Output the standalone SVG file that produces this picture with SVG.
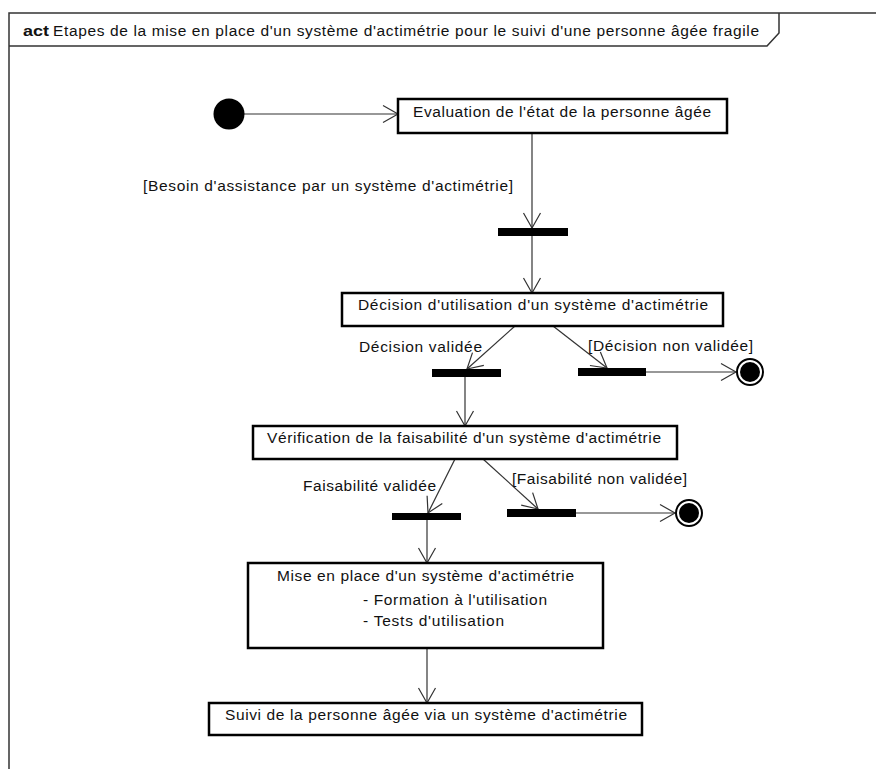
<svg xmlns="http://www.w3.org/2000/svg" width="876" height="769" viewBox="0 0 876 769">
<style>
text{font-family:"Liberation Sans",Arial,sans-serif;font-size:15.5px;fill:#111}
.box{fill:#fff;stroke:#000;stroke-width:2.5}
.bar{fill:#000}
.edge{stroke:#333;stroke-width:1.2;fill:none}
.frame{stroke:#333;stroke-width:1.5;fill:none}
</style>
<defs>
<marker id="open" markerUnits="userSpaceOnUse" markerWidth="20" markerHeight="20" viewBox="-16 -10 18 20" refX="0" refY="0" orient="auto">
<path d="M-15,-8.5 L0,0 L-15,8.5" fill="none" stroke="#333" stroke-width="1.2"/>
</marker>
</defs>
<rect width="876" height="769" fill="#fff"/>
<g id="frame">
<path class="frame" d="M9,769 L9,13 L876,13"/>
<path class="frame" d="M9,46 L767,46 L779,33 L779,13"/>
<text x="23" y="36" font-weight="bold" font-size="16" textLength="26" lengthAdjust="spacingAndGlyphs">act</text>
<text x="53" y="36" textLength="706" lengthAdjust="spacing">Etapes de la mise en place d'un système d'actimétrie pour le suivi d'une personne âgée fragile</text>
</g>
<g id="connectors">
<line class="edge" x1="244" y1="114" x2="398" y2="114" marker-end="url(#open)"/>
<line class="edge" x1="532" y1="133" x2="532" y2="228" marker-end="url(#open)"/>
<line class="edge" x1="532" y1="236" x2="532" y2="293" marker-end="url(#open)"/>
<line class="edge" x1="515" y1="326" x2="467" y2="369" marker-end="url(#open)"/>
<line class="edge" x1="553" y1="326" x2="607" y2="368" marker-end="url(#open)"/>
<line class="edge" x1="646" y1="372" x2="736" y2="372" marker-end="url(#open)"/>
<line class="edge" x1="465" y1="377" x2="465" y2="426" marker-end="url(#open)"/>
<line class="edge" x1="455" y1="459" x2="428" y2="513" marker-end="url(#open)"/>
<line class="edge" x1="483" y1="459" x2="538" y2="509" marker-end="url(#open)"/>
<line class="edge" x1="576" y1="513" x2="675" y2="513" marker-end="url(#open)"/>
<line class="edge" x1="427" y1="520" x2="427" y2="563" marker-end="url(#open)"/>
<line class="edge" x1="427" y1="648" x2="427" y2="703" marker-end="url(#open)"/>
<text x="143" y="191" textLength="370" lengthAdjust="spacing">[Besoin d'assistance par un système d'actimétrie]</text>
<text x="359" y="352" textLength="123" lengthAdjust="spacing">Décision validée</text>
<text x="588" y="351" textLength="165" lengthAdjust="spacing">[Décision non validée]</text>
<text x="303" y="491" textLength="133" lengthAdjust="spacing">Faisabilité validée</text>
<text x="512" y="484" textLength="175" lengthAdjust="spacing">[Faisabilité non validée]</text>
</g>
<g id="initial"><circle cx="229" cy="114" r="15.5" fill="#000"/></g>
<g id="evaluation">
<rect class="box" x="398" y="99" width="329" height="34"/>
<text x="413" y="117" textLength="298" lengthAdjust="spacing">Evaluation de l'état de la personne âgée</text>
</g>
<g id="fork1"><rect class="bar" x="498" y="228" width="70" height="8"/></g>
<g id="decision">
<rect class="box" x="342" y="293" width="381" height="33"/>
<text x="358" y="310" textLength="350" lengthAdjust="spacing">Décision d'utilisation d'un système d'actimétrie</text>
</g>
<g id="forkDecOk"><rect class="bar" x="432" y="369" width="69" height="8"/></g>
<g id="forkDecKo"><rect class="bar" x="578" y="368" width="68" height="8"/></g>
<g id="final1">
<circle cx="750" cy="372" r="13" fill="#fff" stroke="#000" stroke-width="2"/>
<circle cx="750" cy="372" r="10" fill="#000"/>
</g>
<g id="verification">
<rect class="box" x="253" y="426" width="424" height="33"/>
<text x="267" y="443" textLength="394" lengthAdjust="spacing">Vérification de la faisabilité d'un système d'actimétrie</text>
</g>
<g id="forkFaisOk"><rect class="bar" x="392" y="513" width="69" height="7"/></g>
<g id="forkFaisKo"><rect class="bar" x="507" y="509" width="69" height="8"/></g>
<g id="final2">
<circle cx="689" cy="513" r="13" fill="#fff" stroke="#000" stroke-width="2"/>
<circle cx="689" cy="513" r="10" fill="#000"/>
</g>
<g id="miseEnPlace">
<rect class="box" x="248" y="563" width="355" height="85"/>
<text x="277" y="581" textLength="297" lengthAdjust="spacing">Mise en place d'un système d'actimétrie</text>
<text x="363" y="605" textLength="184" lengthAdjust="spacing">- Formation à l'utilisation</text>
<text x="363" y="626" textLength="141" lengthAdjust="spacing">- Tests d'utilisation</text>
</g>
<g id="suivi">
<rect class="box" x="209" y="703" width="433" height="32"/>
<text x="225" y="720" textLength="402" lengthAdjust="spacing">Suivi de la personne âgée via un système d'actimétrie</text>
</g>
</svg>
